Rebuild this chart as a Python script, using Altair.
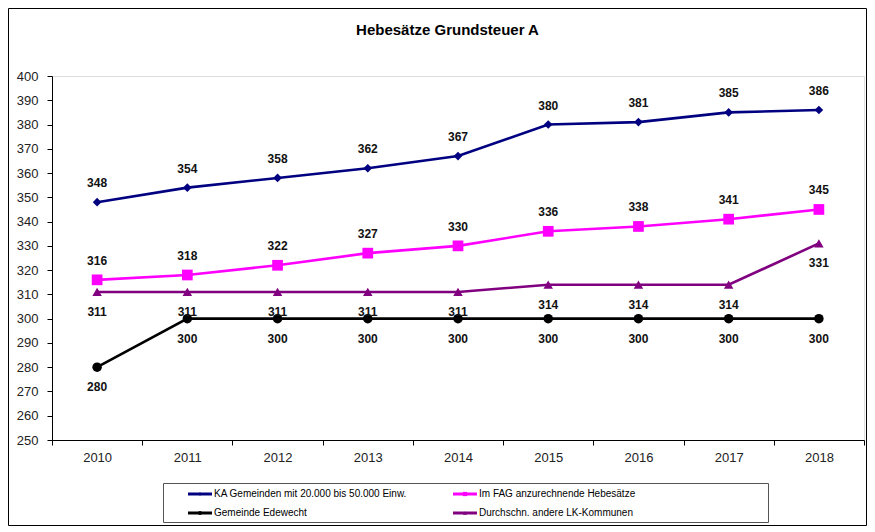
import altair as alt
import pandas as pd

years = ["2010", "2011", "2012", "2013", "2014", "2015", "2016", "2017", "2018"]
series_names = [
    "KA Gemeinden mit 20.000 bis 50.000 Einw.",
    "Im FAG anzurechnende Hebesätze",
    "Gemeinde Edewecht",
    "Durchschn. andere LK-Kommunen",
]
ka_values = [348, 354, 358, 362, 367, 380, 381, 385, 386]
fag_values = [316, 318, 322, 327, 330, 336, 338, 341, 345]
edewecht_values = [280, 300, 300, 300, 300, 300, 300, 300, 300]
lk_values = [311, 311, 311, 311, 311, 314, 314, 314, 331]
label_above = [True, True, False, False]

colors = ["#000080", "#FF00FF", "#000000", "#800080"]
shapes = ["diamond", "square", "circle", "triangle-up"]
sizes = [75, 115, 90, 90]
legend_sizes = [14, 18, 16, 18]

rows = []
for name, vals, above in zip(series_names, [ka_values, fag_values, edewecht_values, lk_values], label_above):
    for y, v in zip(years, vals):
        rows.append({"year": y, "value": v, "series": name, "above": above})
df = pd.DataFrame(rows)

FONT = "Liberation Sans"

x_enc = alt.X(
    "year:O",
    bandPosition=0.5,
    scale=alt.Scale(type="band", paddingInner=0, paddingOuter=0, domain=years),
    axis=alt.Axis(
        title=None, labelAngle=0, tickBand="extent", labelFontSize=13, labelFont=FONT,
        labelColor="#222222", domainColor="#000000", tickColor="#000000", tickSize=5,
        labelPadding=6, grid=False,
    ),
)
y_enc = alt.Y(
    "value:Q",
    scale=alt.Scale(domain=[250, 400], nice=False, zero=False),
    axis=alt.Axis(
        title=None, values=list(range(250, 401, 10)), grid=False, labelFontSize=13,
        labelFont=FONT, labelColor="#222222", domainColor="#000000", tickColor="#000000",
        tickSize=5, labelPadding=9,
    ),
)
color_scale = alt.Scale(domain=series_names, range=colors)

base = alt.Chart(df)

lines = base.mark_line(strokeWidth=2.6).encode(
    x=x_enc,
    y=y_enc,
    color=alt.Color("series:N", scale=color_scale, legend=None),
)

point_layers = []
for name, shp, sz, col in zip(series_names, shapes, sizes, colors):
    point_layers.append(
        base.transform_filter(alt.datum.series == name)
        .mark_point(filled=True, opacity=1, shape=shp, size=sz, color=col)
        .encode(x=x_enc, y=y_enc)
    )

text_above = base.transform_filter("datum.above").mark_text(
    dy=-19, fontSize=12, fontWeight="bold", font=FONT, color="#111111"
).encode(x=x_enc, y=y_enc, text="value:Q")

text_below = base.transform_filter("!datum.above").mark_text(
    dy=20, fontSize=12, fontWeight="bold", font=FONT, color="#111111"
).encode(x=x_enc, y=y_enc, text="value:Q")

one = alt.Data(values=[{"k": 1}])
frame = alt.Chart(one).mark_rect(fill=None, stroke="#000000", strokeWidth=1).encode(
    x=alt.value(-43.5), x2=alt.value(814.5), y=alt.value(-67.5), y2=alt.value(449.5)
)
legend_box = alt.Chart(one).mark_rect(fill=None, stroke="#555555", strokeWidth=1).encode(
    x=alt.value(111.5), x2=alt.value(716.5), y=alt.value(407.5), y2=alt.value(446.5)
)
title = alt.Chart(one).mark_text(
    text="Hebesätze Grundsteuer A", fontSize=15, fontWeight="bold", font=FONT,
    color="#000000", baseline="middle", align="center",
).encode(x=alt.value(395.5), y=alt.value(-46))

# hand-built legend box (two columns, two rows)
legend_layers = []
col_x = [136, 401]
row_y = [418, 437]
for i, (name, shp, lsz, col) in enumerate(zip(series_names, shapes, legend_sizes, colors)):
    cx = col_x[i % 2]
    ry = row_y[i // 2]
    legend_layers.append(
        alt.Chart(one).mark_rule(color=col, strokeWidth=3).encode(
            x=alt.value(cx), x2=alt.value(cx + 24), y=alt.value(ry)
        )
    )
    legend_layers.append(
        alt.Chart(one).mark_point(filled=True, opacity=1, shape=shp, size=lsz, color=col).encode(
            x=alt.value(cx + 12), y=alt.value(ry)
        )
    )
    legend_layers.append(
        alt.Chart(one).mark_text(
            text=name, fontSize=10, font=FONT, color="#000000", align="left", baseline="middle"
        ).encode(x=alt.value(cx + 26), y=alt.value(ry))
    )

chart = alt.layer(
    frame, legend_box, title, lines, *point_layers, text_above, text_below, *legend_layers
).properties(
    width=812,
    height=364,
    padding={"left": 44, "top": 68, "right": 3, "bottom": 86},
    autosize=alt.AutoSizeParams(type="none"),
).configure_view(stroke=None).configure(background="white")

chart.save("out.html", embed_options={"renderer": "svg", "actions": False})
